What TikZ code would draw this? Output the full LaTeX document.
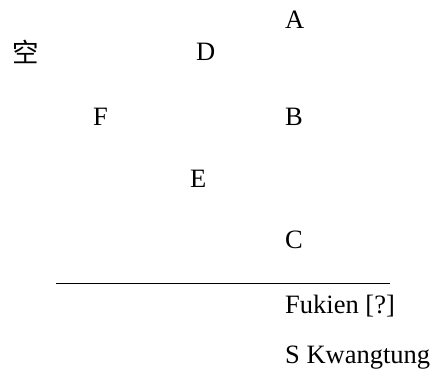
\documentclass[tikz,border=0pt]{standalone}
\usepackage{fontspec}
\setmainfont{Liberation Serif}
\newfontfamily\cjk{Noto Sans CJK SC}
\usepackage{tikz}
\usetikzlibrary{positioning}

\begin{document}
\begin{tikzpicture}[x=1pt,y=-1pt,
  lbl/.style={anchor=base west,inner sep=0pt,font=\fontsize{26.5}{30}\selectfont}]
\useasboundingbox (0,0) rectangle (432,376);
	\node[lbl] (A) at (285,28) {A};
	\node[lbl] (kong) at (12,62) {\cjk 空};
	\node[lbl] (D) at (196,60) {D};
	\node[lbl] (F) at (93,125) {F};
	\node[lbl] (B) at (285,125) {B};
	\node[lbl] (E) at (190,187) {E};
	\node[lbl] (C) at (285,248) {C};
	\node[lbl] (fukien) at (285,313) {Fukien [?]};
	\node[lbl] (kwangtung) at (285,363) {S Kwangtung};

	\coordinate (ruleL) at (56,283);
	\coordinate (ruleR) at (390,283);
	\draw[line width=0.8pt] (ruleL) -- (ruleR);
\end{tikzpicture}
\end{document}
